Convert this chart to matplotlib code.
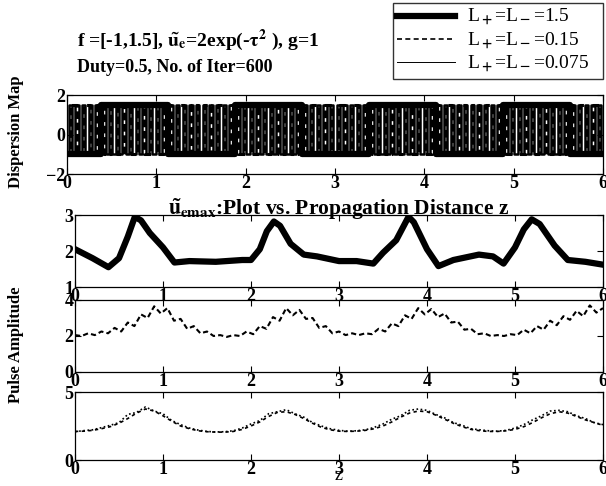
import numpy as np
import matplotlib

matplotlib.use("Agg")
import matplotlib.pyplot as plt

plt.rcParams["font.family"] = ["Liberation Serif", "DejaVu Serif"]
plt.rcParams["font.weight"] = "bold"
plt.rcParams["mathtext.fontset"] = "stix"

# dispersion map parameters
F_LEVELS = [-1.0, 1.5]
MAP_LENGTHS = [1.5, 0.15, 0.075]
MAP_LABELS = [r"L$_+$=L$_-$=1.5", r"L$_+$=L$_-$=0.15", r"L$_+$=L$_-$=0.075"]
Z_END = 6.0

# u_emax, L = 1.5
z_thick = [0.0, 0.2, 0.38, 0.5, 0.6, 0.68, 0.75, 0.85, 1.0, 1.13, 1.3, 1.6, 1.9,
           2.0, 2.1, 2.18, 2.26, 2.33, 2.45, 2.6, 2.75, 3.0, 3.2, 3.39, 3.5,
           3.65, 3.79, 3.85, 4.0, 4.13, 4.3, 4.59, 4.75, 4.87, 5.0, 5.1, 5.19,
           5.28, 5.45, 5.6, 5.8, 6.0]
u_thick = [2.05, 1.8, 1.55, 1.8, 2.4, 2.95, 2.85, 2.5, 2.1, 1.68, 1.72, 1.7, 1.75,
           1.75, 2.05, 2.55, 2.82, 2.7, 2.2, 1.9, 1.85, 1.72, 1.72, 1.65, 1.95,
           2.3, 2.95, 2.8, 2.05, 1.58, 1.75, 1.9, 1.85, 1.65, 2.1, 2.6, 2.88,
           2.75, 2.15, 1.75, 1.7, 1.62]

# u_emax, L = 0.15 (uniform z samples 0..6)
u_dash = [2.05, 2.00, 2.15, 2.05, 2.25, 2.15, 2.45, 2.25, 2.75, 2.55,
          3.20, 3.00, 3.65, 3.25, 3.55, 2.85, 2.95, 2.40, 2.55, 2.15,
          2.25, 2.00, 2.05, 1.95, 2.05, 2.00, 2.25, 2.10, 2.55, 2.40,
          3.05, 2.85, 3.55, 3.15, 3.45, 2.95, 3.00, 2.45, 2.55, 2.15,
          2.25, 2.05, 2.15, 2.05, 2.15, 2.10, 2.40, 2.25, 2.70, 2.55,
          3.15, 2.95, 3.55, 3.20, 3.50, 3.05, 3.25, 2.75, 2.80, 2.35,
          2.40, 2.10, 2.15, 2.00, 2.05, 2.00, 2.10, 2.05, 2.35, 2.15,
          2.55, 2.35, 2.85, 2.60, 3.10, 2.90, 3.40, 3.10, 3.70, 3.30,
          3.55]

# u_emax, L = 0.075 (two traces, uniform z samples 0..6)
u_thin_a = [2.10, 2.12, 2.18, 2.30, 2.45, 2.70, 3.05, 3.45, 3.75, 3.60,
            3.25, 2.85, 2.50, 2.30, 2.15, 2.08, 2.05, 2.05, 2.10, 2.25,
            2.50, 2.80, 3.20, 3.50, 3.55, 3.35, 3.05, 2.70, 2.40, 2.22,
            2.12, 2.10, 2.12, 2.18, 2.30, 2.50, 2.80, 3.15, 3.45, 3.60,
            3.55, 3.30, 3.00, 2.70, 2.45, 2.25, 2.15, 2.10, 2.10, 2.15,
            2.25, 2.45, 2.75, 3.10, 3.40, 3.55, 3.45, 3.20, 2.95, 2.75,
            2.55]
u_thin_b = [2.08, 2.16, 2.22, 2.38, 2.55, 2.75, 3.35, 3.50, 3.90, 3.60,
            3.40, 2.90, 2.60, 2.35, 2.20, 2.10, 2.06, 2.08, 2.15, 2.35,
            2.65, 2.90, 3.40, 3.55, 3.70, 3.40, 3.15, 2.75, 2.50, 2.30,
            2.18, 2.12, 2.15, 2.22, 2.40, 2.65, 3.00, 3.25, 3.65, 3.75,
            3.65, 3.35, 3.10, 2.75, 2.55, 2.30, 2.22, 2.15, 2.12, 2.18,
            2.35, 2.60, 2.95, 3.25, 3.60, 3.65, 3.55, 3.25, 3.05, 2.75,
            2.60]

W, H = 606, 486
fig = plt.figure(figsize=(W / 100, H / 100), dpi=100)


def px_axes(left, top, right, bottom):
    return fig.add_axes([left / W, 1 - bottom / H, (right - left) / W, (bottom - top) / H])


def style(ax, yticks, ylim):
    ax.set_xlim(0, Z_END)
    ax.set_ylim(*ylim)
    ax.set_xticks(range(0, 7))
    ax.set_yticks(yticks)
    ax.tick_params(direction="in", top=True, right=True, length=4, width=0.8,
                   labelsize=13, pad=1)
    for s in ax.spines.values():
        s.set_linewidth(0.9)


ax1 = px_axes(67, 95, 603, 174)
ax2 = px_axes(75, 215, 603, 287)
ax3 = px_axes(75, 300, 603, 372)
ax4 = px_axes(75, 392, 603, 460)

# dispersion map: alternating segments of length L/2, first one centred on z=0
styles = [dict(lw=4.5, ls="-"), dict(lw=2.2, ls=(0, (2.5, 1.2))), dict(lw=1.8, ls="-")]
leg_styles = [dict(lw=4.5, ls="-"), dict(lw=1.2, ls=(0, (3, 2))), dict(lw=0.7, ls="-")]
handles = []
for L, st, lst, lab in zip(MAP_LENGTHS, styles, leg_styles, MAP_LABELS):
    half = L / 2
    edges = np.arange(-half / 2, Z_END + half, half)
    levels = np.array([F_LEVELS[i % 2] for i in range(len(edges))])
    ax1.plot(edges, levels, drawstyle="steps-post", color="black", **st)
    h, = ax1.plot([], [], color="black", label=lab, **lst)
    handles.append(h)
style(ax1, [-2, 0, 2], (-2, 2))

ax2.plot(z_thick, u_thick, color="black", lw=4.5, solid_joinstyle="round")
style(ax2, [1, 2, 3], (1, 3))
ax2.set_title(r"$\tilde{\mathbf{u}}_{\mathbf{emax}}$:Plot vs. Propagation Distance z",
              fontsize=15.5, fontweight="bold", pad=0)

ax3.plot(np.linspace(0, Z_END, len(u_dash)), u_dash, color="black", lw=1.5, ls=(0, (2.5, 1.5)))
style(ax3, [0, 2, 4], (0, 4))

ax4.plot(np.linspace(0, Z_END, len(u_thin_a)), u_thin_a, color="black", lw=1.2, ls=(0, (2, 2)))
ax4.plot(np.linspace(0, Z_END, len(u_thin_b)), u_thin_b, color="black", lw=1.2, ls=(0, (1, 1.5)))
style(ax4, [0, 5], (0, 5))
ax4.set_xlabel("z", fontsize=13, labelpad=-8)

fig.text(16 / W, 1 - 132 / H, "Dispersion Map", rotation=90, ha="center", va="center",
         fontsize=12)
fig.text(16 / W, 1 - 345 / H, "Pulse Amplitude", rotation=90, ha="center", va="center",
         fontsize=12)

fig.text(77 / W, 1 - 40 / H,
         r"f =[-1,1.5], $\tilde{\mathbf{u}}_{\mathbf{e}}$=2exp(-$\mathbf{\tau}^{\mathbf{2}}$ ), g=1",
         fontsize=14, va="center")
fig.text(77 / W, 1 - 68 / H, "Duty=0.5, No. of Iter=600", fontsize=13, va="center")

leg = fig.legend(handles=handles, loc="upper left",
                 bbox_to_anchor=(393 / W, 1 - 84 / H, 210 / W, 81 / H),
                 mode="expand", frameon=True, fancybox=False,
                 handlelength=3.0, borderaxespad=0, labelspacing=0.1,
                 borderpad=0.2, handletextpad=0.6, prop={"weight": "normal", "size": 14})
leg.get_frame().set_edgecolor("black")
leg.get_frame().set_linewidth(1.0)

fig.savefig("out.png", dpi=100)
